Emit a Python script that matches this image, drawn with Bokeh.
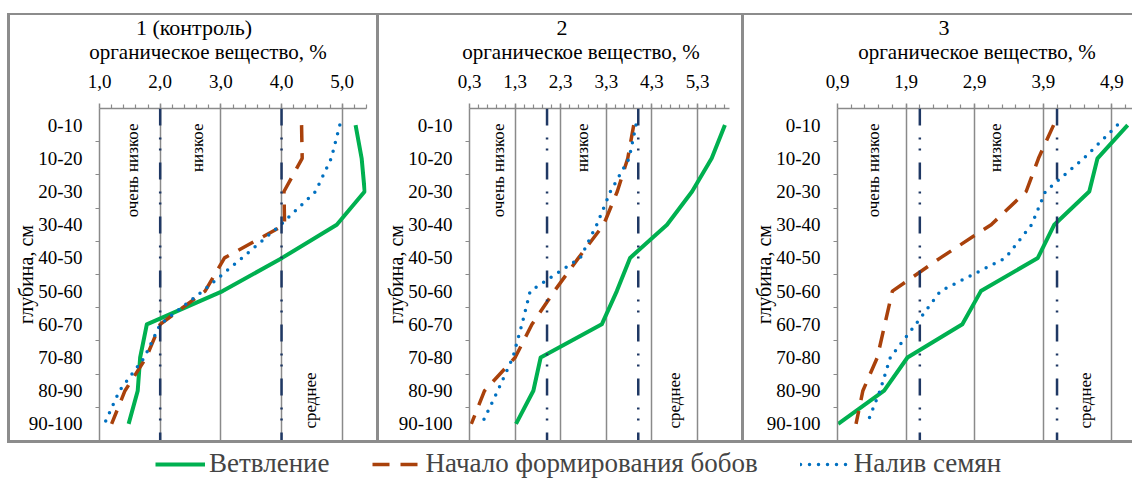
import math
from bokeh.plotting import figure
from bokeh.layouts import row, column
from bokeh.models import (Range1d, FixedTicker, CustomJSTickFormatter, Span, Label,
                          Legend, LegendItem, Spacer, Div)
from bokeh.embed import file_html
from bokeh.resources import INLINE

# ---------------- data ----------------
depth = ["0-10", "10-20", "20-30", "30-40", "40-50", "50-60", "60-70", "70-80", "80-90", "90-100"]

# panel 1 (контроль)
p1_branch = [5.22, 5.32, 5.37, 4.91, 4.01, 3.03, 1.78, 1.67, 1.63, 1.48]
p1_pods   = [4.33, 4.34, 4.04, 4.05, 3.06, 2.74, 2.00, 1.77, 1.42, 1.20]
p1_fill   = [4.96, 4.82, 4.56, 3.99, 3.35, 2.70, 2.00, 1.74, 1.33, 1.08]
# panel 2
p2_branch = [5.90, 5.61, 5.18, 4.63, 3.82, 3.53, 3.20, 1.86, 1.70, 1.32]
p2_pods   = [3.90, 3.77, 3.54, 3.24, 2.69, 2.16, 1.67, 1.30, 0.63, 0.34]
p2_fill   = [3.95, 3.80, 3.39, 3.09, 2.73, 1.63, 1.45, 1.25, 0.92, 0.57]
# panel 3
p3_branch = [5.13, 4.69, 4.57, 4.06, 3.82, 2.99, 2.72, 1.92, 1.58, 0.91]
p3_pods   = [4.05, 3.83, 3.65, 3.14, 2.40, 1.70, 1.59, 1.48, 1.27, 1.17]
p3_fill   = [4.98, 4.49, 3.93, 3.73, 3.35, 2.40, 2.04, 1.67, 1.52, 1.33]

series_names = ["Ветвление", "Начало формирования бобов", "Налив семян"]
panel_titles = ["1 (контроль)", "2", "3"]
x_caption = "органическое вещество, %"
y_caption = "глубина, см"
zone_names = ["очень низкое", "низкое", "среднее"]

p1_ticks = [1.0, 2.0, 3.0, 4.0, 5.0]
p2_ticks = [0.3, 1.3, 2.3, 3.3, 4.3, 5.3]
p3_ticks = [0.9, 1.9, 2.9, 3.9, 4.9]
p1_thresholds = [2.0, 4.0]
p2_thresholds = [2.0, 4.0]
p3_thresholds = [2.1, 4.1]

# ---------------- style ----------------
FONT = "Liberation Serif"
GRID = "#8a8a8a"
FRAME = "#8c8c8c"
NAVY = "#1F3864"
GREEN = "#00B050"
BROWN = "#A9410B"
BLUE = "#0070C0"

STYLES = [
    dict(line_color=GREEN, line_width=4, line_join="round"),
    dict(line_color=BROWN, line_width=3.5, line_dash="17 11"),
    dict(line_color=BLUE, line_width=3.5, line_dash="0 9", line_cap="round"),
]

idx = list(range(len(depth)))
HEAD_H = 51
PANEL_H = 374
FULL_H = HEAD_H + PANEL_H


def make_header(w, title, title_x, cap_x):
    span = ("position:absolute;left:{x}px;top:{y}px;transform:translateX(-50%);"
            "font-size:{s}px;line-height:{s}px;white-space:nowrap;")
    html = (f'<div style="position:relative;width:{w}px;height:{HEAD_H}px;'
            f"font-family:'{FONT}',serif;color:#000;\">"
            f'<span style="{span.format(x=title_x, y=1.6, s=22)}">{title}</span>'
            f'<span style="{span.format(x=cap_x, y=27.4, s=21)}">{x_caption}</span>'
            f'</div>')
    return Div(text=html, width=w, height=HEAD_H, margin=0)


def make_panel(xr, majors, thresholds, series, zones, w, ml, mr):
    p = figure(width=w, height=PANEL_H, x_range=Range1d(*xr), y_range=Range1d(len(depth) - 0.5, -0.5),
               x_axis_location="above", toolbar_location=None, output_backend="svg", title=None,
               min_border_left=ml, min_border_right=mr, min_border_top=42, min_border_bottom=0)
    p.outline_line_color = None
    p.background_fill_color = "white"
    p.border_fill_color = "white"

    minors = []
    v = xr[0] + 0.2
    while v <= xr[1] + 1e-9:
        minors.append(round(v, 2))
        v += 0.2

    xa = p.xaxis[0]
    xa.ticker = FixedTicker(ticks=majors, minor_ticks=minors)
    xa.formatter = CustomJSTickFormatter(code="return tick.toFixed(1).replace('.', ',');")
    xa.major_label_text_font = FONT
    xa.major_label_text_font_size = "19px"
    xa.major_label_text_color = "black"
    xa.major_label_standoff = 16
    xa.axis_line_color = GRID
    xa.axis_line_width = 1.5
    xa.major_tick_line_color = GRID
    xa.major_tick_line_width = 1.5
    xa.major_tick_out = 5
    xa.major_tick_in = 0
    xa.minor_tick_line_color = GRID
    xa.minor_tick_line_width = 1.2
    xa.minor_tick_out = 4
    xa.minor_tick_in = 0

    ya = p.yaxis[0]
    ya.ticker = FixedTicker(ticks=idx, minor_ticks=[i + 0.5 for i in idx[:-1]])
    ya.formatter = CustomJSTickFormatter(args=dict(labels=depth),
                                         code="const i = Math.round(tick); return (i >= 0 && i < labels.length) ? labels[i] : '';")
    ya.major_label_text_font = FONT
    ya.major_label_text_font_size = "19px"
    ya.major_label_text_color = "black"
    ya.major_tick_line_color = None
    ya.major_tick_out = 0
    ya.major_tick_in = 0
    ya.major_label_standoff = 13
    ya.minor_tick_line_color = GRID
    ya.minor_tick_line_width = 1.2
    ya.minor_tick_out = 4
    ya.minor_tick_in = 0
    ya.axis_line_color = GRID
    ya.axis_line_width = 1.5
    ya.axis_label = y_caption
    ya.axis_label_text_font = FONT
    ya.axis_label_text_font_size = "20px"
    ya.axis_label_text_font_style = "normal"
    ya.axis_label_text_color = "black"
    ya.axis_label_standoff = -11

    p.xgrid.ticker = FixedTicker(ticks=majors)
    p.xgrid.grid_line_color = GRID
    p.xgrid.grid_line_width = 1.5
    p.ygrid.visible = False

    for t in thresholds:
        p.add_layout(Span(location=t, dimension="height", line_color=NAVY, line_width=2.5,
                          line_dash="17 12 2 9 2 12"))

    for vals, st in zip(series, STYLES):
        p.line(x=vals, y=idx, **st)

    (xa1, xa2, xa3) = zones
    for xz, txt, align, yz in [(xa1, zone_names[0], "right", -0.05),
                               (xa2, zone_names[1], "right", -0.05),
                               (xa3, zone_names[2], "left", 9.14)]:
        p.add_layout(Label(x=xz, y=yz, text=txt, angle=math.pi / 2, text_align=align,
                           text_baseline="middle", text_font=FONT, text_font_size="17px",
                           text_color="black"))
    return p


h1 = make_header(366, panel_titles[0], 184, 198)
h2 = make_header(362, panel_titles[1], 183, 202)
h3 = make_header(388, panel_titles[2], 200, 233)

f1 = make_panel((1.0, 5.4), p1_ticks, p1_thresholds, [p1_branch, p1_pods, p1_fill],
                (1.54, 2.62, 4.47), 366, 89, 10)
f2 = make_panel((0.3, 6.0), p2_ticks, p2_thresholds, [p2_branch, p2_pods, p2_fill],
                (0.93, 2.77, 4.79), 362, 90, 12)
f3 = make_panel((0.9, 5.2), p3_ticks, p3_thresholds, [p3_branch, p3_pods, p3_fill],
                (1.43, 3.21, 4.52), 388, 93, 0)

# legend strip (proxy renderers kept out of view)
leg = figure(width=1132, height=36, toolbar_location=None, output_backend="svg", title=None,
             x_axis_location=None, y_axis_location=None,
             x_range=Range1d(0, 1), y_range=Range1d(100, 101),
             min_border_left=0, min_border_right=0, min_border_top=0, min_border_bottom=0)
leg.grid.visible = False
leg.outline_line_color = None
rs = [leg.line(x=vals, y=idx, **st) for vals, st in zip([p1_branch, p1_pods, p1_fill], STYLES)]
legend = Legend(items=[LegendItem(label=n, renderers=[r]) for n, r in zip(series_names, rs)],
                orientation="horizontal", location=(155, 0), glyph_width=50, glyph_height=20,
                label_standoff=4, spacing=42, padding=0, margin=0, border_line_color=None,
                background_fill_alpha=0, label_text_font=FONT, label_text_font_size="27px",
                label_text_baseline="middle")
leg.add_layout(legend)


def bar(w, h):
    return Spacer(width=w, height=h, margin=0, styles={"background-color": FRAME})


def gap(w, h):
    return Spacer(width=w, height=h, margin=0)


top_line = row(gap(7, 2), bar(1125, 2))
middle = row(gap(7, FULL_H), bar(3, FULL_H), column(h1, f1), bar(3, FULL_H),
             column(h2, f2), bar(3, FULL_H), column(h3, f3))
bottom_line = row(gap(7, 3), bar(1125, 3))
layout = column(gap(1132, 13), top_line, middle, bottom_line, leg)

open("out.html", "w").write(file_html(layout, INLINE))
